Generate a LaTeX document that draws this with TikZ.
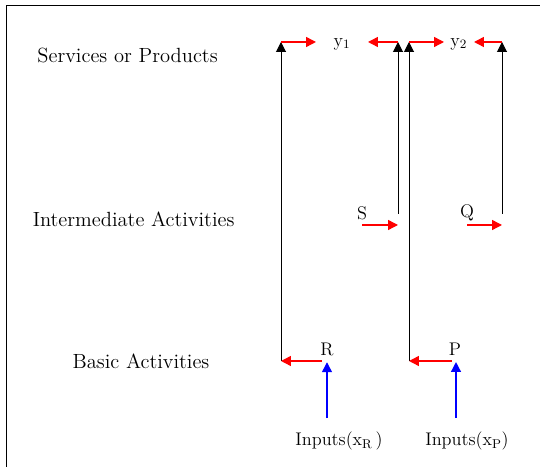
\documentclass[tikz,border=0pt]{standalone}
\usepackage{tikz}
\usetikzlibrary{arrows.meta}

\begin{document}
\begin{tikzpicture}[
    font=\fontsize{13}{15}\selectfont,
    lbl/.style={inner sep=1pt},
    level/.style={lbl, font=\fontsize{14.6}{17}\selectfont},
    tip/.style={-{Triangle[length=7pt,width=7pt]}},
    flow/.style={tip, black, line width=0.7pt},
    redarr/.style={tip, red, line width=1pt},
    bluearr/.style={tip, blue, line width=1pt}
  ]
  \useasboundingbox (0,0) rectangle (13.5,-11.675);
  \draw[line width=0.7pt] (0.15,-11.675) -- (0.15,-0.125) -- (13.5,-0.125);

  % levels
  \node[level] (services) at (3.19,-1.375) {Services or Products};
  \node[level] (inter) at (3.34,-5.475) {Intermediate Activities};
  \node[level] (basic) at (3.525,-9.025) {Basic Activities};

  % outputs, activities, inputs
  \node[lbl] (y1) at (8.55,-1.1) {y\textsubscript{1}};
  \node[lbl] (y2) at (11.47,-1.1) {y\textsubscript{2}};
  \node[lbl] (S) at (9.05,-5.33) {S};
  \node[lbl] (Q) at (11.675,-5.33) {Q};
  \node[lbl] (R) at (8.175,-8.73) {R};
  \node[lbl] (P) at (11.375,-8.73) {P};
  \node[lbl] (inR) at (8.475,-11.025) {Inputs(x\textsubscript{R}\,)};
  \node[lbl] (inP) at (11.675,-11.025) {Inputs(x\textsubscript{P})};

  % corners
  \coordinate (rb) at (7.025,-9.025);
  \coordinate (rt) at (7.025,-1.05);
  \coordinate (st) at (9.95,-1.05);
  \coordinate (sb) at (9.95,-5.35);
  \coordinate (sin) at (9.95,-5.625);
  \coordinate (pt) at (10.225,-1.05);
  \coordinate (pb) at (10.225,-9.025);
  \coordinate (qt) at (12.55,-1.05);
  \coordinate (qb) at (12.55,-5.35);
  \coordinate (qin) at (12.55,-5.625);

  % black flows
  \draw[flow] (rb) -- (rt);
  \draw[flow] (sb) -- (st);
  \draw[flow] (pb) -- (pt);
  \draw[flow] (qb) -- (qt);

  % red arrows
  \draw[redarr] (rt) -- ++(0.875,0);
  \draw[redarr] (st) -- ++(-0.75,0);
  \draw[redarr] (pt) -- ++(0.875,0);
  \draw[redarr] (qt) -- ++(-0.7,0);
  \draw[redarr] (S |- sin) -- (sin);
  \draw[redarr] (Q |- qin) -- (qin);
  \draw[redarr] (R |- rb) ++(-0.125,0) -- (rb);
  \draw[redarr] (P |- pb) ++(-0.075,0) -- (pb);

  % inputs
  \draw[bluearr, shorten <=8.5pt, shorten >=3.5pt] (inR.north -| R.south) -- (R.south);
  \draw[bluearr, shorten <=8.5pt, shorten >=3.5pt] (inP.north -| P.south) ++(0.025,0) -- ([xshift=0.025cm]P.south);
\end{tikzpicture}
\end{document}
